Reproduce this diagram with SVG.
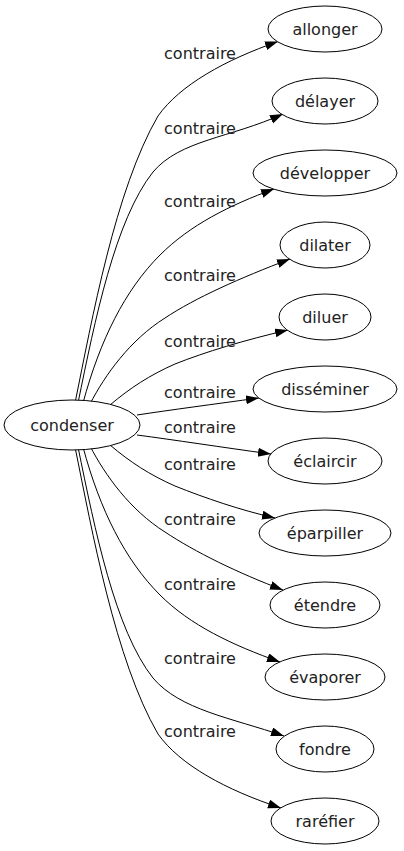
<svg xmlns="http://www.w3.org/2000/svg" width="404" height="851" viewBox="0 0 404 851">
<defs>
<marker id="arr" markerUnits="userSpaceOnUse" markerWidth="14" markerHeight="10" refX="13" refY="4.5" orient="auto">
<path d="M0,0 L13,4.5 L0,9 z" fill="#000"/>
</marker>
<style>
.n ellipse{fill:#fff;stroke:#000;stroke-width:1}
.n text{font-family:"DejaVu Sans",sans-serif;font-size:16px;text-anchor:middle;fill:#222}
.e path{fill:none;stroke:#000;stroke-width:1;marker-end:url(#arr)}
.e text{font-family:"DejaVu Sans",sans-serif;font-size:16px;text-anchor:middle;fill:#222}
</style>
</defs>
<rect width="404" height="851" fill="#fff"/>
<g id="edges" class="e">
<path d="M75,403 C92,320 115,190 158,116 C180,85 225,60 278,41.5"/>
<path d="M78,403 C95,320 115,220 153,172 C180,140 230,138 283,114"/>
<path d="M83,403 C100,340 125,290 160,255 C190,225 230,205 274,189"/>
<path d="M90,404 C105,375 130,340 165,318 C195,298 240,278 290,259"/>
<path d="M110,405 C130,388 150,375 175,364 C205,352 245,340 288,330"/>
<path d="M137,415 C170,410 215,404 259,398"/>
<path d="M137,435 C175,440 220,447 271,454"/>
<path d="M110,445 C130,462 150,475 175,486 C205,498 240,510 275,518"/>
<path d="M90,446 C105,475 130,510 165,532 C195,552 238,573 283,590"/>
<path d="M83,447 C100,510 125,560 160,595 C190,625 232,645 280,662"/>
<path d="M78,447 C95,530 115,630 153,678 C180,710 232,718 284,736"/>
<path d="M75,447 C92,530 115,660 158,734 C180,765 226,790 281,808"/>
<text x="200" y="59">contraire</text>
<text x="200" y="134">contraire</text>
<text x="200" y="207">contraire</text>
<text x="200" y="281">contraire</text>
<text x="200" y="347">contraire</text>
<text x="200" y="398">contraire</text>
<text x="200" y="433">contraire</text>
<text x="200" y="470">contraire</text>
<text x="200" y="525">contraire</text>
<text x="200" y="590">contraire</text>
<text x="200" y="664">contraire</text>
<text x="200" y="737">contraire</text>
</g>
<g id="condenser" class="n"><ellipse cx="72" cy="425" rx="68" ry="25"/><text x="72" y="430.5">condenser</text></g>
<g id="allonger" class="n"><ellipse cx="325" cy="29" rx="57" ry="23"/><text x="325" y="34.5">allonger</text></g>
<g id="delayer" class="n"><ellipse cx="325" cy="101" rx="53" ry="23"/><text x="325" y="106.5">délayer</text></g>
<g id="developper" class="n"><ellipse cx="325" cy="173" rx="72" ry="23"/><text x="325" y="178.5">développer</text></g>
<g id="dilater" class="n"><ellipse cx="325" cy="245" rx="45" ry="23"/><text x="325" y="250.5">dilater</text></g>
<g id="diluer" class="n"><ellipse cx="325" cy="317" rx="46" ry="23"/><text x="325" y="322.5">diluer</text></g>
<g id="disseminer" class="n"><ellipse cx="325" cy="389" rx="72" ry="23"/><text x="325" y="394.5">disséminer</text></g>
<g id="eclaircir" class="n"><ellipse cx="325" cy="461" rx="57" ry="23"/><text x="325" y="466.5">éclaircir</text></g>
<g id="eparpiller" class="n"><ellipse cx="325" cy="533" rx="66" ry="23"/><text x="325" y="538.5">éparpiller</text></g>
<g id="etendre" class="n"><ellipse cx="325" cy="605" rx="55" ry="23"/><text x="325" y="610.5">étendre</text></g>
<g id="evaporer" class="n"><ellipse cx="325" cy="677" rx="60" ry="23"/><text x="325" y="682.5">évaporer</text></g>
<g id="fondre" class="n"><ellipse cx="325" cy="749" rx="49" ry="23"/><text x="325" y="754.5">fondre</text></g>
<g id="rarefier" class="n"><ellipse cx="325" cy="821" rx="54" ry="23"/><text x="325" y="826.5">raréfier</text></g>
</svg>
